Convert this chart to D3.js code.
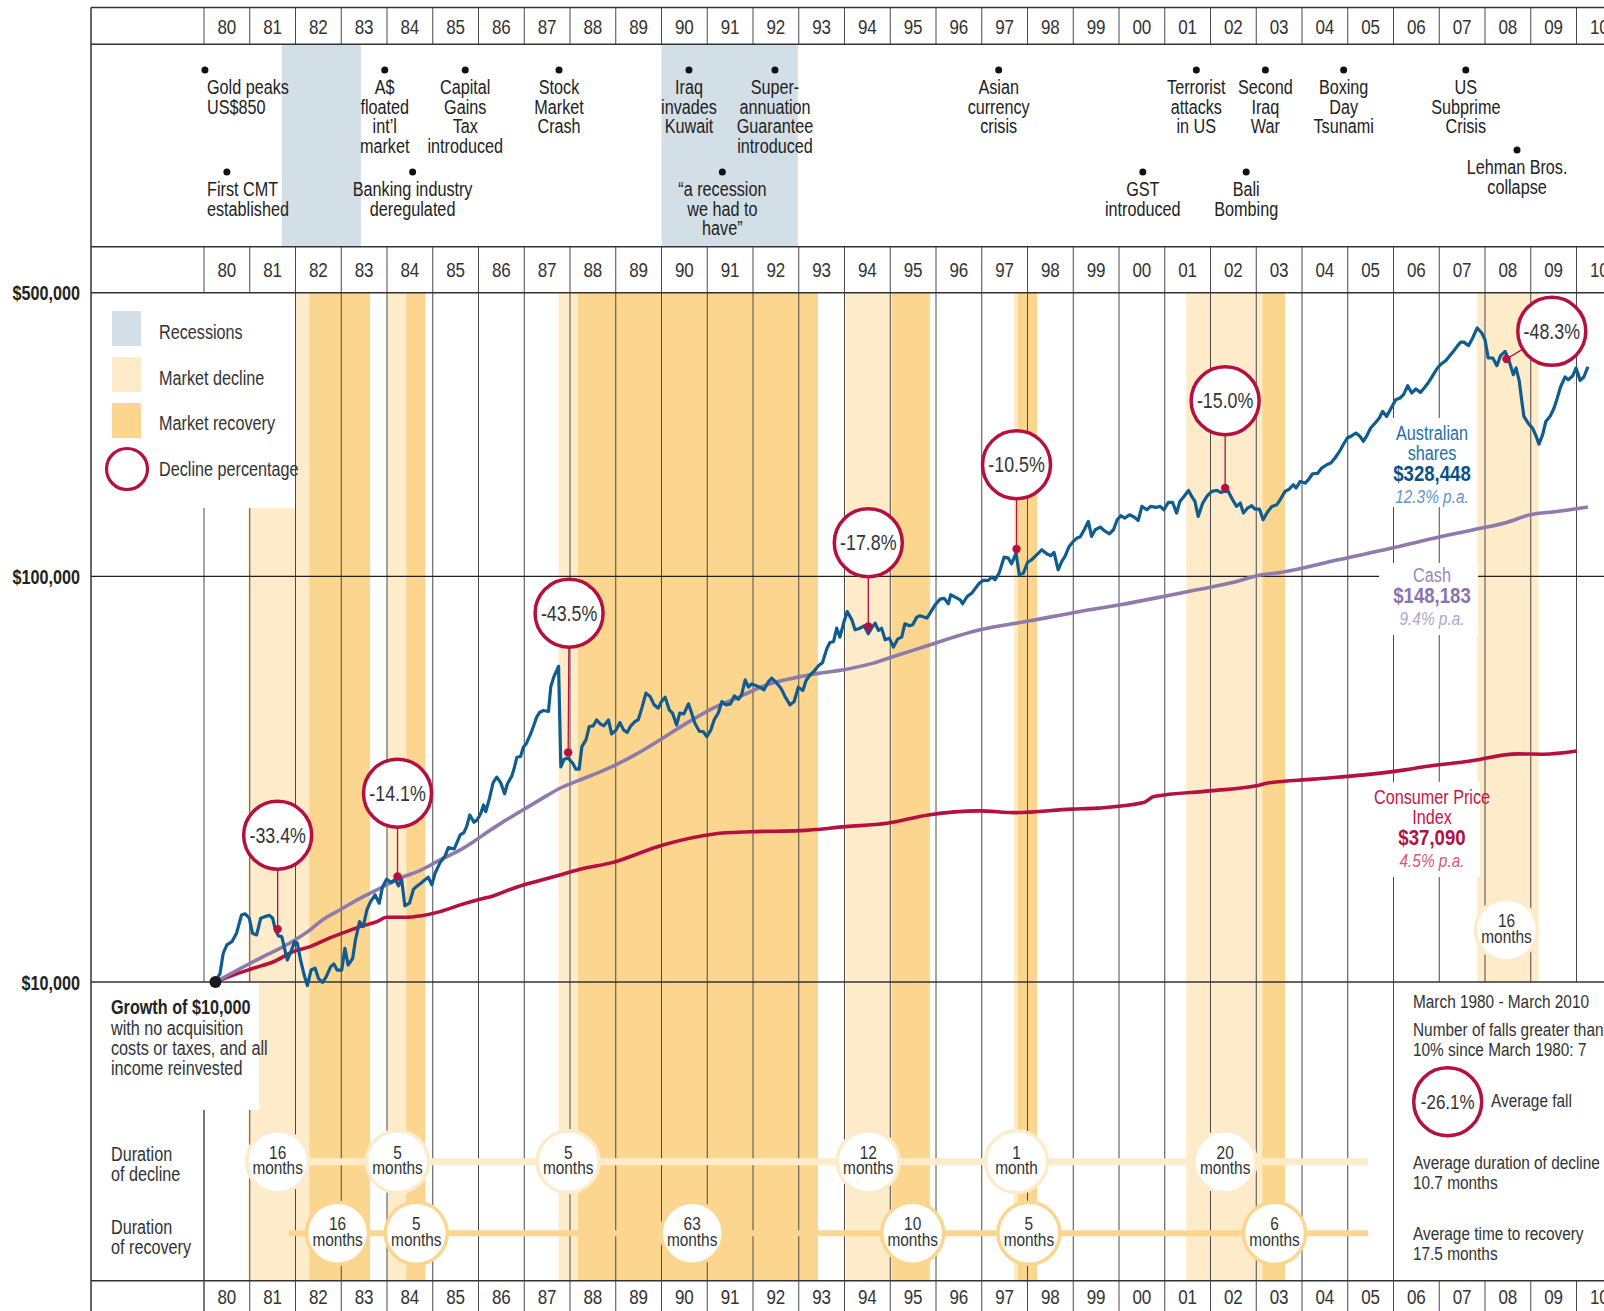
<!DOCTYPE html>
<html>
<head>
<meta charset="utf-8">
<style>
  body { margin: 0; background: #fff; }
  svg text { font-family: "Liberation Sans", Arial, sans-serif; fill: #333; }
</style>
</head>
<body>
<svg id="chart" width="1604" height="1311"></svg>
<script src="https://cdnjs.cloudflare.com/ajax/libs/d3/7.8.5/d3.min.js"></script>
<script>
// ---- data ----
const yearLabels = ["80","81","82","83","84","85","86","87","88","89","90","91","92","93","94",
  "95","96","97","98","99","00","01","02","03","04","05","06","07","08","09","10"];

const recessions = [[1981.70, 1983.43], [1990.00, 1992.98]];
const declineBands = [[1980.97, 1982.30], [1984.00, 1984.42], [1987.75, 1988.17], [1994.03, 1995.03],
  [1997.70, 1997.79], [2001.47, 2003.13], [2007.83, 2009.17]];
const recoveryBands = [[1982.30, 1983.63], [1984.42, 1984.84], [1988.17, 1993.42], [1995.03, 1995.87],
  [1997.79, 1998.21], [2003.13, 2003.63]];

// growth of $10,000, [year, value]
const shares = [
  [1980.25,10000],[1980.35,10500],[1980.42,11770],[1980.50,12340],[1980.61,12570],[1980.71,13180],
  [1980.82,14630],[1980.90,14720],[1980.99,14360],[1981.06,13180],[1981.15,13060],[1981.24,14360],
  [1981.33,14490],[1981.43,14600],[1981.50,14360],[1981.56,13440],[1981.63,12990],[1981.70,12940],
  [1981.82,11330],[1981.90,11880],[1981.98,12570],[1982.04,12460],[1982.11,11330],[1982.19,10400],
  [1982.26,9800],[1982.34,10700],[1982.43,10810],[1982.50,10210],[1982.59,9980],[1982.67,10300],
  [1982.77,10910],[1982.84,11080],[1982.91,10700],[1983.01,10700],[1983.08,12110],[1983.15,11010],
  [1983.25,11440],[1983.31,12690],[1983.40,14090],[1983.48,13690],[1983.56,15050],[1983.64,15780],
  [1983.74,16390],[1983.83,15640],[1983.90,17130],[1983.99,17920],[1984.10,17580],[1984.18,17920],
  [1984.25,17250],[1984.32,17920],[1984.39,15400],[1984.49,15640],[1984.58,16930],[1984.66,17250],
  [1984.74,17520],[1984.81,17780],[1984.90,18130],[1984.98,17350],[1985.05,18540],[1985.16,19690],
  [1985.27,20450],[1985.34,21440],[1985.47,21280],[1985.60,23040],[1985.68,23350],[1985.74,24150],
  [1985.81,25810],[1985.90,24760],[1985.97,25090],[1986.05,26060],[1986.11,27320],[1986.16,26300],
  [1986.24,28380],[1986.32,31010],[1986.40,31980],[1986.49,30900],[1986.57,29090],[1986.63,30770],
  [1986.73,32210],[1986.78,33650],[1986.84,35810],[1986.92,35950],[1986.98,37910],[1987.05,38780],
  [1987.13,40650],[1987.20,42630],[1987.27,44950],[1987.34,46240],[1987.42,46680],[1987.53,46430],
  [1987.58,53490],[1987.65,56620],[1987.75,60000],[1987.80,33900],[1987.87,35400],[1987.96,35620],
  [1988.06,34610],[1988.13,33460],[1988.20,33460],[1988.26,38050],[1988.35,39530],[1988.42,42630],
  [1988.51,42790],[1988.58,44260],[1988.66,43280],[1988.74,42790],[1988.84,44260],[1988.91,40890],
  [1989.01,41830],[1989.09,43600],[1989.17,41830],[1989.25,41200],[1989.33,42790],[1989.42,43850],
  [1989.49,44260],[1989.57,47320],[1989.66,51520],[1989.75,50530],[1989.84,48200],[1989.93,47320],
  [1990.00,49120],[1990.08,50350],[1990.17,46870],[1990.24,45990],[1990.33,43030],[1990.40,45990],
  [1990.49,45810],[1990.59,48490],[1990.66,45990],[1990.73,43450],[1990.83,41440],[1990.91,41440],
  [1990.99,40270],[1991.08,41830],[1991.15,44260],[1991.24,45990],[1991.32,49120],[1991.41,48200],
  [1991.51,48490],[1991.59,50730],[1991.68,49780],[1991.75,51020],[1991.83,55560],[1991.90,53290],
  [1991.97,54310],[1992.07,53700],[1992.15,53290],[1992.24,52490],[1992.34,55030],[1992.41,56100],
  [1992.52,54520],[1992.61,53000],[1992.70,50530],[1992.81,48200],[1992.90,49120],[1992.99,53290],
  [1993.09,52290],[1993.16,55340],[1993.25,57150],[1993.33,58250],[1993.43,60150],[1993.52,61310],
  [1993.61,66130],[1993.68,68680],[1993.76,68980],[1993.83,74490],[1993.90,70800],[1993.99,77380],
  [1994.06,81900],[1994.16,78110],[1994.23,73800],[1994.34,74490],[1994.43,75510],[1994.52,72150],
  [1994.59,74490],[1994.67,76670],[1994.74,73520],[1994.81,74490],[1994.89,69720],[1994.98,70400],
  [1995.07,66900],[1995.16,69990],[1995.25,70800],[1995.32,76370],[1995.42,75510],[1995.49,75930],
  [1995.58,79310],[1995.65,79920],[1995.80,78870],[1995.87,81130],[1995.98,85050],[1996.09,87830],
  [1996.18,88220],[1996.27,85540],[1996.32,90030],[1996.42,88860],[1996.53,87500],[1996.58,85540],
  [1996.68,89170],[1996.78,90880],[1996.85,92980],[1996.95,96210],[1997.03,97670],[1997.14,97670],
  [1997.22,99540],[1997.29,98030],[1997.38,101800],[1997.49,111500],[1997.58,110850],[1997.65,107350],
  [1997.75,114080],[1997.82,100850],[1997.91,101800],[1998.00,108150],[1998.09,109830],[1998.20,112980],
  [1998.31,116230],[1998.42,113640],[1998.51,112360],[1998.58,114480],[1998.67,103750],[1998.75,108790],
  [1998.82,111920],[1998.91,118460],[1999.00,121880],[1999.08,124200],[1999.15,124920],[1999.24,130230],
  [1999.33,136520],[1999.40,125390],[1999.48,130230],[1999.59,132240],[1999.67,129720],[1999.79,127290],
  [1999.88,130230],[1999.96,137810],[2000.04,141000],[2000.13,139150],[2000.23,141800],[2000.33,139960],
  [2000.42,137280],[2000.50,148660],[2000.61,145880],[2000.69,148660],[2000.81,147800],[2000.90,148660],
  [2000.98,145880],[2001.08,152060],[2001.17,152060],[2001.26,143150],[2001.33,152930],[2001.42,157340],
  [2001.52,162790],[2001.59,157340],[2001.66,152930],[2001.73,140430],[2001.83,151520],[2001.93,157950],
  [2002.03,161860],[2002.14,162790],[2002.22,160960],[2002.30,161860],[2002.39,161860],[2002.46,155900],
  [2002.57,148660],[2002.65,151520],[2002.72,143150],[2002.81,147300],[2002.90,149240],[2002.97,146460],
  [2003.07,146460],[2003.15,137810],[2003.24,143650],[2003.34,148660],[2003.45,150080],[2003.53,155010],
  [2003.63,161860],[2003.72,164060],[2003.81,168110],[2003.87,165000],[2003.96,171310],[2004.07,169740],
  [2004.14,172980],[2004.23,178960],[2004.34,179250],[2004.43,184830],[2004.54,188360],[2004.63,190190],
  [2004.72,195670],[2004.82,203150],[2004.90,211000],[2004.99,219180],[2005.09,222080],[2005.18,225480],
  [2005.27,221210],[2005.34,214980],[2005.41,221210],[2005.50,231960],[2005.60,238670],[2005.69,245540],
  [2005.76,254950],[2005.85,247800],[2005.96,261430],[2006.05,272490],[2006.14,275090],[2006.22,280330],
  [2006.31,294980],[2006.40,283040],[2006.49,289500],[2006.59,284020],[2006.69,292810],[2006.78,302280],
  [2006.87,313960],[2006.96,326120],[2007.05,334200],[2007.15,340560],[2007.22,348400],[2007.31,358430],
  [2007.39,368730],[2007.47,378020],[2007.54,377700],[2007.64,370200],[2007.73,386720],[2007.83,409330],
  [2007.93,397810],[2008.00,383000],[2008.07,345200],[2008.17,345200],[2008.26,330400],[2008.34,349780],
  [2008.44,358430],[2008.53,338590],[2008.62,313960],[2008.68,326120],[2008.75,302280],[2008.80,272490],
  [2008.85,247800],[2008.95,237730],[2009.04,231960],[2009.12,221210],[2009.18,211600],[2009.26,223360],
  [2009.33,240870],[2009.43,248770],[2009.51,259930],[2009.58,275090],[2009.65,292810],[2009.75,309850],
  [2009.82,305190],[2009.92,312220],[2009.99,326120],[2010.08,304000],[2010.16,309850],[2010.25,328448]
];

const cash = [
  [1980.25,10000],[1981.22,11440],[1981.84,12410],[1982.32,13440],[1982.61,14280],[1982.97,15050],
  [1983.41,16080],[1983.85,17020],[1984.28,18020],[1984.72,18820],[1985.16,20000],[1985.60,21160],
  [1985.89,22180],[1986.18,23350],[1986.47,24530],[1986.91,26300],[1987.34,28110],[1987.78,30030],
  [1988.22,31490],[1988.80,33460],[1989.38,36090],[1989.97,39530],[1990.55,43450],[1991.13,47320],
  [1991.72,50530],[1992.30,54000],[1992.88,56100],[1993.46,57710],[1994.05,59030],[1994.63,61090],
  [1995.07,63420],[1995.65,66520],[1996.96,73800],[1998.06,77680],[1999.15,81900],[2000.02,85050],
  [2000.97,89170],[2001.70,92620],[2002.43,96210],[2003.12,100850],[2003.52,102190],[2004.79,109830],
  [2006.47,120950],[2006.80,123520],[2007.75,130230],[2008.47,135740],[2008.98,141800],[2009.57,144480],
  [2010.25,148183]
];

const cpi = [
  [1980.25,10000],[1980.64,10405],[1981.08,10810],[1981.52,11220],[1981.95,11880],[1982.32,12220],
  [1982.68,12740],[1983.05,13230],[1983.41,13690],[1983.78,14090],[1983.99,14440],[1984.43,14440],
  [1984.72,14550],[1985.16,14910],[1985.60,15490],[1986.03,15990],[1986.32,16300],[1986.62,16800],
  [1986.98,17350],[1987.34,17780],[1987.78,18360],[1988.22,18960],[1988.92,19690],[1990.03,21770],
  [1991.15,23170],[1991.93,23460],[1993.03,23610],[1994.03,24150],[1994.93,24620],[1995.83,25810],
  [1996.95,26410],[1997.73,26150],[1998.97,26670],[1999.52,26820],[2000.54,27680],[2000.76,28640],
  [2001.99,29580],[2003.00,30440],[2003.23,30900],[2004.24,31620],[2005.36,32400],[2006.25,33330],
  [2006.70,33960],[2007.60,34940],[2008.72,36490],[2009.28,36430],[2010.00,37090]
];

const seriesNames = [["Australian", "shares"], ["Cash"], ["Consumer Price", "Index"]];
const seriesRates = ["12.3% p.a.", "9.4% p.a.", "4.5% p.a."];

// market falls greater than 10%
const fallLabels = ["-33.4%", "-14.1%", "-43.5%", "-17.8%", "-10.5%", "-15.0%", "-48.3%"];
const fallDates = [1981.61, 1984.23, 1987.96, 1994.52, 1997.76, 2002.32, 2008.47];
const fallDotValues = [13500, 18200, 36800, 75200, 116700, 165000, 343200];
const fallCircleDates = [1981.61, 1984.23, 1987.98, 1994.52, 1997.76, 2002.32, 2009.46];
const fallCircleValues = [23000, 29200, 81100, 121000, 188400, 270900, 401500];
const declineMonths = [16, 5, 5, 12, 1, 20, 16];
const recoveryMonths = [16, 5, 63, 10, 5, 6];
const recoveryDates = [1982.92, 1984.64, 1990.67, 1995.49, 1998.03, 2003.40];

// timeline of events
const eventDates = [1980.02, 1980.50, 1983.95, 1984.56, 1985.71, 1987.76, 1990.60, 1991.33, 1992.48,
  1997.37, 2000.52, 2001.69, 2002.78, 2003.20, 2004.91, 2007.58, 2008.70];
const eventTiers = [0, 1, 0, 1, 0, 0, 0, 1, 0, 0, 1, 0, 1, 0, 0, 0, 2];
const eventLines = [
  ["Gold peaks", "US$850"], ["First CMT", "established"], ["A$", "floated", "int\u2019l", "market"],
  ["Banking industry", "deregulated"], ["Capital", "Gains", "Tax", "introduced"], ["Stock", "Market", "Crash"],
  ["Iraq", "invades", "Kuwait"], ["\u201ca recession", "we had to", "have\u201d"],
  ["Super-", "annuation", "Guarantee", "introduced"], ["Asian", "currency", "crisis"], ["GST", "introduced"],
  ["Terrorist", "attacks", "in US"], ["Bali", "Bombing"], ["Second", "Iraq", "War"],
  ["Boxing", "Day", "Tsunami"], ["US", "Subprime", "Crisis"], ["Lehman Bros.", "collapse"]
];

const legendLabels = ["Recessions", "Market decline", "Market recovery", "Decline percentage"];

// ---- layout ----
const W = 1604, H = 1311;
const SX = 0.81;   // horizontal squeeze, to get a condensed face
const svg = d3.select("#chart");
const x = d3.scaleLinear().domain([1980, 2010]).range([204, 1576.5]);
const y = d3.scaleLog().domain([10000, 500000]).range([982, 292.7]);

const frameL = 91, rowTop = 7.5, rowBot = 44.3, eventsBot = 246.7;
const chartTop = y(500000), chartBot = y(10000), panelBot = 1280.7;
const colors = {
  recession: "#d3dfe6", decline: "#fdebc9", recovery: "#fcd68e",
  shares: "#0f5c91", cash: "#8e7aab", cpi: "#b5103f", grid: "#4a4a4a"
};

// condensed multi-line text
function lines(g, xp, yp, arr, lh, opts = {}) {
  const t = g.append("g").attr("transform", `translate(${xp},${yp}) scale(${SX},1)`)
    .append("text")
    .attr("text-anchor", opts.anchor || "middle")
    .attr("font-size", opts.size || 20);
  if (opts.fill) t.style("fill", opts.fill);
  if (opts.weight) t.attr("font-weight", opts.weight);
  if (opts.style) t.attr("font-style", opts.style);
  arr.forEach((s, i) => t.append("tspan").attr("x", 0).attr("dy", i ? lh : 0).text(s));
  return t;
}

// recession shading in the events panel
svg.append("g").selectAll("rect").data(recessions).join("rect")
  .attr("x", d => x(d[0])).attr("width", d => x(d[1]) - x(d[0]))
  .attr("y", rowBot).attr("height", eventsBot - rowBot)
  .attr("fill", colors.recession);

// decline / recovery bands
const bands = svg.append("g");
bands.selectAll(".dec").data(declineBands).join("rect")
  .attr("x", d => x(d[0])).attr("width", d => x(d[1]) - x(d[0]))
  .attr("y", chartTop).attr("height", panelBot - chartTop).attr("fill", colors.decline);
bands.selectAll(".rec").data(recoveryBands).join("rect")
  .attr("x", d => x(d[0])).attr("width", d => x(d[1]) - x(d[0]))
  .attr("y", chartTop).attr("height", panelBot - chartTop).attr("fill", colors.recovery);

// year column lines
const yearEdges = d3.range(1980, 2012);
const vg = svg.append("g").attr("stroke", colors.grid).attr("stroke-width", 1);
[[rowTop, rowBot], [eventsBot, H]].forEach(([a, b]) => {
  vg.append("g").selectAll("line").data(yearEdges).join("line")
    .attr("x1", d => x(d)).attr("x2", d => x(d)).attr("y1", a).attr("y2", b);
});

svg.append("line").attr("x1", frameL).attr("x2", W).attr("y1", y(100000)).attr("y2", y(100000))
  .attr("stroke", "#222").attr("stroke-width", 1.3);

// white panels
const boxes = [
  [frameL, chartTop, 295, 508], [frameL, chartBot, 259, 1110], [1394, chartBot, W, panelBot],
  [1393, 418, 1476, 507], [1379, 563, 1478, 635], [1393, 782, 1480, 877]
];
svg.append("g").selectAll("rect").data(boxes).join("rect")
  .attr("x", d => d[0]).attr("y", d => d[1]).attr("width", d => d[2] - d[0]).attr("height", d => d[3] - d[1])
  .attr("fill", "#fff");

// frame lines
const hg = svg.append("g").attr("stroke", "#333").attr("stroke-width", 1.5);
hg.selectAll("line").data([rowTop, rowBot, eventsBot, chartTop, chartBot, panelBot]).join("line")
  .attr("x1", frameL).attr("x2", W).attr("y1", d => d).attr("y2", d => d);
hg.append("line").attr("x1", frameL).attr("x2", frameL).attr("y1", rowTop).attr("y2", H);
svg.append("line").attr("x1", x(1980)).attr("x2", x(1980)).attr("y1", 1110).attr("y2", H)
  .attr("stroke", colors.grid);

// y axis
svg.append("g").attr("transform", `translate(${frameL},0)`)
  .call(d3.axisLeft(y).tickValues([10000, 100000, 500000]).tickFormat(d3.format("$,")).tickSize(0).tickPadding(11))
  .call(g => g.select(".domain").remove())
  .selectAll("text")
  .attr("x", -11 / SX).attr("transform", `scale(${SX},1)`)
  .attr("font-size", 20).attr("font-weight", "bold").attr("dy", "0.35em").style("fill", "#222");

// year labels (three rows)
[33.5, 277, 1304].forEach(ry => {
  svg.append("g").selectAll("g").data(yearLabels).join("g")
    .attr("transform", (d, i) => `translate(${x(1980 + i + 0.5)},${ry}) scale(${SX},1)`)
    .append("text").attr("text-anchor", "middle").attr("font-size", 21).text(d => d);
});

// events
const tierY = [70, 172, 150];
const ev = svg.append("g");
eventDates.forEach((d, i) => {
  const cx = x(d), cy = tierY[eventTiers[i]];
  ev.append("circle").attr("cx", cx).attr("cy", cy).attr("r", 3.5).attr("fill", "#111");
  const early = d < 1981;
  lines(ev, early ? x(1980) + 3 : cx, cy + 24, eventLines[i], 19.7,
    { anchor: early ? "start" : "middle", size: 20, fill: "#222" });
});

// legend
const lg = svg.append("g");
const swatchFill = [colors.recession, colors.decline, colors.recovery];
swatchFill.forEach((c, i) => {
  lg.append("rect").attr("x", 112).attr("y", 311 + i * 46).attr("width", 29).attr("height", 35).attr("fill", c);
});
lg.append("circle").attr("cx", 127).attr("cy", 469).attr("r", 20.5)
  .attr("fill", "#fff").attr("stroke", colors.cpi).attr("stroke-width", 3.2);
legendLabels.forEach((s, i) => lines(lg, 159, 339 + i * 45.7, [s], 20, { anchor: "start", size: 20 }));

// duration bars and circles
const dg = svg.append("g");
const declineRowY = 1161.7, recoveryRowY = 1233.3, barEnd = 1368;
dg.append("line").attr("x1", x(fallDates[0])).attr("x2", barEnd).attr("y1", declineRowY).attr("y2", declineRowY)
  .attr("stroke", colors.decline).attr("stroke-width", 7);
dg.append("line").attr("x1", 289).attr("x2", barEnd).attr("y1", recoveryRowY).attr("y2", recoveryRowY)
  .attr("stroke", colors.recovery).attr("stroke-width", 6);

function durationCircle(cx, cy, n, stroke) {
  dg.append("circle").attr("cx", cx).attr("cy", cy).attr("r", 31)
    .attr("fill", "#fff").attr("stroke", stroke).attr("stroke-width", 3.5);
  lines(dg, cx, cy - 3, [String(n), n === 1 ? "month" : "months"], 15.6, { size: 19 });
}
declineMonths.forEach((m, i) => {
  const cx = x(fallDates[i]);
  durationCircle(cx, cx > 1394 ? 930 : declineRowY, m, colors.decline);
});
recoveryMonths.forEach((m, i) => durationCircle(x(recoveryDates[i]), recoveryRowY, m, colors.recovery));

// series lines
const line = d3.line().x(d => x(d[0])).y(d => y(d[1]));
const smooth = d3.line().x(d => x(d[0])).y(d => y(d[1])).curve(d3.curveMonotoneX);
svg.append("path").datum(cpi).attr("d", smooth).attr("fill", "none")
  .attr("stroke", colors.cpi).attr("stroke-width", 3.6).attr("stroke-linejoin", "round");
svg.append("path").datum(cash).attr("d", smooth).attr("fill", "none")
  .attr("stroke", colors.cash).attr("stroke-width", 3.6).attr("stroke-linejoin", "round");
svg.append("path").datum(shares).attr("d", line).attr("fill", "none")
  .attr("stroke", colors.shares).attr("stroke-width", 3.2).attr("stroke-linejoin", "round");
svg.append("circle").attr("cx", x(shares[0][0])).attr("cy", y(shares[0][1])).attr("r", 6).attr("fill", "#1a1a1a");

// decline percentage call-outs
const ag = svg.append("g");
const R = 34;
fallLabels.forEach((lab, i) => {
  const dx = x(fallDates[i]), dy = y(fallDotValues[i]);
  const cx = x(fallCircleDates[i]), cy = y(fallCircleValues[i]);
  const dist = Math.hypot(cx - dx, cy - dy);
  ag.append("line").attr("x1", dx).attr("y1", dy)
    .attr("x2", cx - (cx - dx) * R / dist).attr("y2", cy - (cy - dy) * R / dist)
    .attr("stroke", colors.cpi).attr("stroke-width", 1.3);
  ag.append("circle").attr("cx", dx).attr("cy", dy).attr("r", 4.2).attr("fill", colors.cpi);
  ag.append("circle").attr("cx", cx).attr("cy", cy).attr("r", R)
    .attr("fill", "#fff").attr("stroke", colors.cpi).attr("stroke-width", 3.5);
  lines(ag, cx, cy + 7.5, [lab], 20, { size: 22 });
});

// series labels
const fmt = d3.format("$,");
const labelX = 1432;
const labelSpec = [
  { data: shares, top: 440, c: ["#1f6ea8", "#0d4f86", "#5b97c9"] },
  { data: cash, top: 582, c: ["#9b87b6", "#8a74ab", "#b3a4cb"] },
  { data: cpi, top: 804, c: ["#c0164a", "#b5103f", "#d9547d"] }
];
labelSpec.forEach((s, i) => {
  const n = seriesNames[i].length;
  lines(svg, labelX, s.top, seriesNames[i], 20, { size: 20, fill: s.c[0] });
  const vy = s.top + (n - 1) * 20 + 21;
  lines(svg, labelX, vy, [fmt(s.data[s.data.length - 1][1])], 20, { size: 23, weight: "bold", fill: s.c[1] });
  lines(svg, labelX, vy + 22, [seriesRates[i]], 20, { size: 19, style: "italic", fill: s.c[2] });
});

// bottom-left notes
const note = svg.append("g");
lines(note, 111, 1014, ["Growth of " + fmt(10000)], 20, { anchor: "start", size: 20, weight: "bold", fill: "#222" });
lines(note, 111, 1034.5, ["with no acquisition", "costs or taxes, and all", "income reinvested"], 20.3,
  { anchor: "start", size: 20 });
lines(note, 111, 1161, ["Duration", "of decline"], 20.5, { anchor: "start", size: 20 });
lines(note, 111, 1233.5, ["Duration", "of recovery"], 20.5, { anchor: "start", size: 20 });

// bottom-right summary
const avgFall = d3.mean(fallLabels, s => +s.replace("%", ""));
const px = 1413;
lines(note, px, 1007.7, ["March 1980 - March 2010"], 20, { anchor: "start", size: 19 });
lines(note, px, 1036, ["Number of falls greater than", "10% since March 1980: " + fallLabels.length], 20,
  { anchor: "start", size: 19 });
note.append("circle").attr("cx", 1447.7).attr("cy", 1101.7).attr("r", R)
  .attr("fill", "#fff").attr("stroke", colors.cpi).attr("stroke-width", 3.5);
lines(note, 1447.7, 1109, [avgFall.toFixed(1) + "%"], 20, { size: 21 });
lines(note, 1491, 1107, ["Average fall"], 20, { anchor: "start", size: 19 });
lines(note, px, 1168.7, ["Average duration of decline", d3.mean(declineMonths).toFixed(1) + " months"], 20,
  { anchor: "start", size: 19 });
lines(note, px, 1240, ["Average time to recovery", d3.mean(recoveryMonths).toFixed(1) + " months"], 20,
  { anchor: "start", size: 19 });
</script>
</body>
</html>
